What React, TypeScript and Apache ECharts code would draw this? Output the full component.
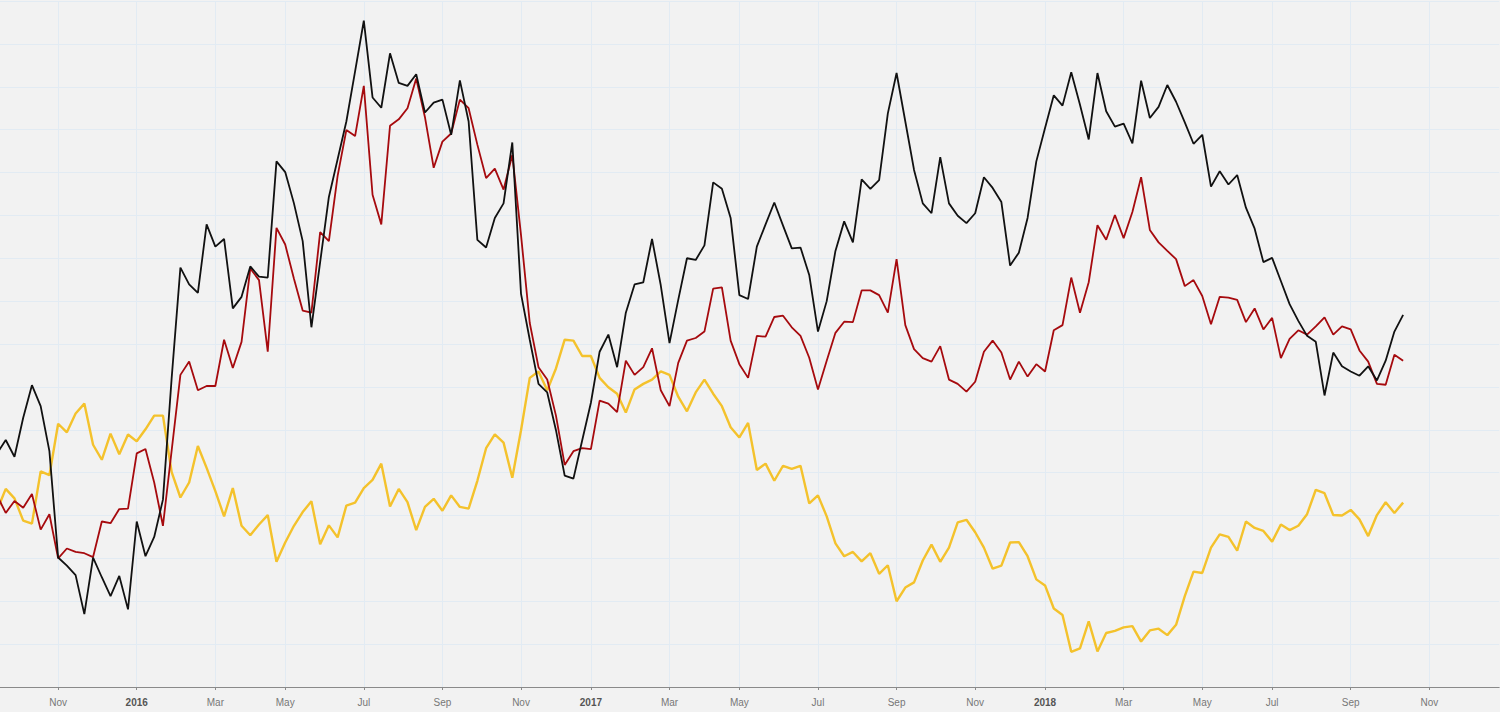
import React, { useEffect, useRef } from "react";
import * as echarts from "echarts";

// Weekly observations (Mondays) starting 2015-09-14; values on an arbitrary 0-160 scale
const blackSeries = [
  54.5, 57.6, 53.7, 62.8, 70.4, 65.5, 55.0, 30.2, 28.3, 26.1, 17.0, 30.2, 25.6, 21.2, 25.9, 18.1, 38.6, 30.5, 35.0, 43.7, 72.1, 97.8, 93.9, 91.9, 107.9, 102.7, 104.5, 88.3, 91.0, 98.1,
  95.7, 95.5, 122.6, 120.1, 112.8, 104.0, 83.9, 99.1, 114.3, 123.1, 131.9, 143.6, 155.4, 137.5, 135.1, 147.8, 140.9, 140.2, 142.9, 134.0, 136.3, 137.0, 128.8, 141.5, 131.9, 104.3, 102.5, 109.4,
  112.8, 127.0, 91.7, 81.0, 70.7, 68.7, 59.9, 49.3, 48.6, 57.5, 66.3, 78.2, 82.2, 74.6, 87.3, 93.9, 94.4, 104.5, 93.7, 80.2, 90.3, 100.0, 99.6, 103.0, 117.7, 116.2, 109.4, 91.4, 90.5,
  102.7, 107.9, 113.0, 107.6, 102.3, 102.5, 96.1, 82.9, 90.0, 101.7, 108.6, 103.7, 118.4, 116.2, 118.2, 133.8, 143.2, 131.9, 120.6, 112.8, 110.5, 123.6, 112.8, 109.9, 108.2, 110.5, 118.9, 116.4, 113.1,
  98.3, 101.3, 109.4, 122.6, 130.4, 138.0, 135.6, 143.4, 135.8, 127.7, 143.2, 134.3, 130.7, 131.4, 126.8, 141.4, 132.7, 135.3, 140.4, 136.5, 131.7, 126.7, 128.8, 116.7, 120.3, 117.2, 119.4, 111.8,
  106.9, 99.1, 100.1, 94.7, 89.3, 85.4, 81.9, 80.5, 68.0, 78.0, 74.8, 73.6, 72.6, 74.8, 71.5, 76.1, 82.9, 86.8,
];

const redSeries = [
  44.7, 40.6, 43.4, 41.8, 45.0, 36.7, 40.3, 30.0, 32.3, 31.5, 31.2, 30.3, 38.6, 38.2, 41.5, 41.6, 54.5, 55.5, 47.7, 37.6, 55.2, 72.8, 75.9, 69.2, 70.2, 70.2, 81.0, 74.4, 80.5, 97.6,
  94.9, 78.2, 107.1, 103.2, 95.2, 87.8, 87.3, 106.1, 104.0, 119.2, 129.9, 128.5, 140.2, 114.8, 107.9, 130.9, 132.4, 135.0, 141.9, 132.9, 121.1, 127.2, 129.1, 137.0, 135.0, 126.5, 118.7, 120.9,
  116.0, 124.1, 105.4, 84.9, 74.6, 71.7, 63.3, 51.8, 55.0, 55.7, 55.5, 66.8, 66.1, 64.1, 76.1, 72.8, 74.6, 79.0, 69.2, 65.5, 75.6, 80.8, 81.4, 82.9, 92.9, 93.2, 80.8, 75.3, 72.1,
  81.9, 81.7, 86.3, 86.6, 83.9, 81.9, 76.8, 69.4, 76.1, 82.6, 85.2, 85.1, 92.5, 92.5, 91.4, 87.3, 99.8, 84.4, 78.8, 76.7, 75.9, 79.5, 71.7, 70.7, 68.9, 71.2, 78.2, 80.8, 78.0,
  71.7, 75.9, 72.4, 75.3, 73.6, 83.2, 84.4, 95.5, 87.3, 94.4, 107.7, 104.3, 110.1, 104.7, 110.8, 118.9, 106.6, 103.7, 101.7, 99.8, 93.5, 94.9, 91.2, 84.6, 91.0, 90.8, 90.3, 85.1,
  88.3, 83.4, 86.1, 76.7, 81.2, 83.2, 82.2, 84.1, 86.2, 82.2, 84.1, 83.4, 78.5, 75.9, 70.7, 70.5, 77.5, 76.1,
];

const yellowSeries = [
  41.2, 46.2, 44.0, 38.8, 38.1, 50.3, 49.4, 61.4, 59.4, 63.8, 66.1, 56.5, 53.0, 59.1, 54.3, 58.9, 57.3, 60.1, 63.3, 63.3, 50.1, 44.2, 47.7, 56.2, 51.1, 45.7, 39.8, 46.4, 37.6, 35.4,
  37.9, 40.1, 29.2, 33.7, 37.6, 40.8, 43.3, 33.3, 37.7, 34.9, 42.3, 43.0, 46.4, 48.3, 52.1, 42.1, 46.2, 43.1, 36.6, 42.0, 43.9, 41.1, 44.7, 42.0, 41.6, 48.1, 55.7, 58.9,
  57.0, 48.8, 59.9, 72.1, 73.6, 69.2, 74.3, 81.0, 80.8, 77.2, 77.2, 72.1, 69.9, 68.4, 64.0, 69.4, 70.7, 71.7, 73.6, 72.8, 67.7, 64.3, 68.7, 71.7, 68.4, 65.5, 60.6, 58.2, 61.6,
  50.6, 52.1, 48.1, 51.6, 50.9, 51.6, 42.8, 44.7, 39.8, 33.5, 30.5, 31.5, 29.3, 31.2, 26.4, 28.4, 20.0, 23.2, 24.4, 29.5, 33.2, 29.2, 32.5, 38.4, 39.0, 36.1, 32.5, 27.6, 28.3,
  33.7, 33.8, 30.5, 25.1, 23.7, 18.3, 16.8, 8.2, 9.0, 15.3, 8.3, 12.6, 13.1, 13.9, 14.2, 10.6, 13.2, 13.6, 12.1, 14.5, 21.2, 26.9, 26.6, 32.5, 35.6, 35.0, 31.8, 38.6,
  37.1, 36.4, 33.9, 37.9, 36.6, 37.6, 40.3, 46.0, 45.2, 40.1, 40.0, 41.3, 39.1, 35.2, 40.1, 43.1, 40.6, 43.0,
];

const monthNames = ["Jan", "Feb", "Mar", "Apr", "May", "Jun", "Jul", "Aug", "Sep", "Oct", "Nov", "Dec"];
const firstWeek = Date.UTC(2015, 8, 14);
const weekCount = 173; // through 2018-12-31
const weekDates: string[] = [];
for (let k = 0; k < weekCount; k++) {
  weekDates.push(new Date(firstWeek + k * 7 * 86400000).toISOString().slice(0, 10));
}

function isTickWeek(_i: number, v: string): boolean {
  const d = new Date(v + "T00:00:00Z");
  return d.getUTCDate() <= 7 && d.getUTCMonth() % 2 === 0;
}

export default function App() {
  const ref = useRef<HTMLDivElement>(null);
  useEffect(() => {
    if (!ref.current) return;
    const chart = echarts.init(ref.current, null, { renderer: "svg" });
    const gridColor = "#e2ebf3";
    chart.setOption({
      animation: false,
      backgroundColor: "#f2f2f2",
      grid: { left: 0, top: 1, width: 1502.2, height: 686, containLabel: false },
      xAxis: {
        type: "category",
        data: weekDates,
        boundaryGap: false,
        offset: 4.5,
        axisLine: { show: true, lineStyle: { color: "#8a8a8a", width: 1 } },
        axisTick: { show: true, interval: isTickWeek, length: 3, lineStyle: { color: "#8a8a8a" } },
        axisLabel: {
          interval: isTickWeek,
          margin: 6,
          fontSize: 10,
          fontFamily: "Liberation Sans, Arial, sans-serif",
          color: "#777777",
          formatter: (v: string) => {
            const d = new Date(v + "T00:00:00Z");
            const m = d.getUTCMonth();
            if (m === 0) return "{y|" + d.getUTCFullYear() + "}";
            return monthNames[m];
          },
          rich: {
            y: { fontWeight: "bold", color: "#555555", fontSize: 10, fontFamily: "Liberation Sans, Arial, sans-serif" },
          },
        },
        splitLine: { show: true, interval: isTickWeek, lineStyle: { color: gridColor, width: 1 } },
      },
      yAxis: {
        type: "value",
        min: 0,
        max: 160,
        interval: 10,
        axisLine: { show: false },
        axisTick: { show: false },
        axisLabel: { show: false },
        splitLine: { show: true, lineStyle: { color: gridColor, width: 1 } },
      },
      series: [
        {
          name: "Yellow",
          type: "line",
          data: yellowSeries,
          showSymbol: false,
          symbol: "none",
          lineStyle: { color: "#f4c22c", width: 2.4 },
          z: 2,
        },
        {
          name: "Red",
          type: "line",
          data: redSeries,
          showSymbol: false,
          symbol: "none",
          lineStyle: { color: "#a60a0e", width: 1.8 },
          z: 3,
        },
        {
          name: "Black",
          type: "line",
          data: blackSeries,
          showSymbol: false,
          symbol: "none",
          lineStyle: { color: "#111111", width: 1.8 },
          z: 4,
        },
      ],
    });
    return () => chart.dispose();
  }, []);
  return (
    <div style={{ position: "fixed", left: 0, top: 0, width: 1500, height: 712, overflow: "hidden", background: "#f2f2f2" }}>
      <div
        ref={ref}
        style={{ position: "absolute", left: -3.4, top: 0, width: 1503.4, height: 712 }}
      />
    </div>
  );
}
